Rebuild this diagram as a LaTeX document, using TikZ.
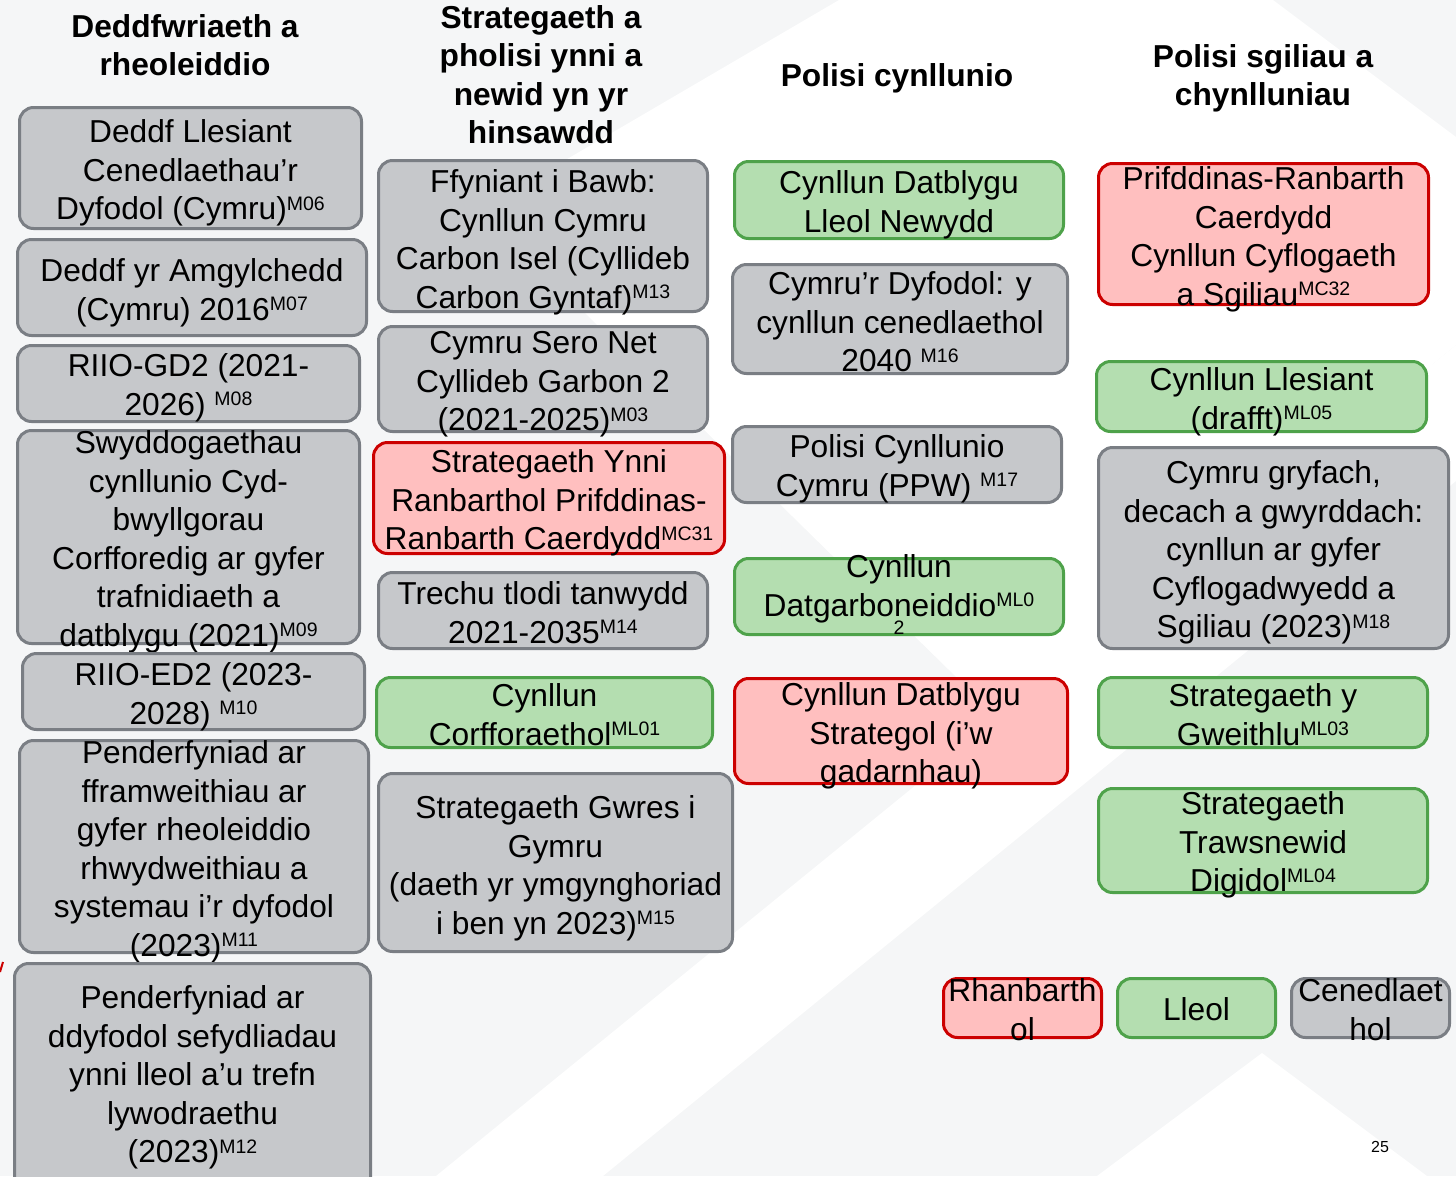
\documentclass[tikz,border=0pt]{standalone}
\usepackage{fontspec}
\setmainfont{Liberation Sans}
\definecolor{bggray}{HTML}{F5F6F7}
\definecolor{gfill}{HTML}{C6C8CB}
\definecolor{gline}{HTML}{7A7E84}
\definecolor{grfill}{HTML}{B4DEB0}
\definecolor{grline}{HTML}{4EA24A}
\definecolor{rfill}{HTML}{FFBFBF}
\definecolor{rline}{HTML}{CC0000}
\newcommand\sups[1]{\raisebox{0.3em}{\fontsize{19.5}{20}\selectfont #1}}
\newcommand\pbx[8]{%
  \node[#1, minimum width={#5-#3-3}, minimum height={#6-#4-3}] (#2) at ({(#3+#5)/2},{(#4+#6)/2}) {};
  \node[txt, anchor=north] (#2-t) at ({(#3+#5)/2},{#7-15.5}) {\strut #8};}
\tikzset{
  boxbase/.style={rectangle, rounded corners=14pt, line width=3pt, inner sep=0pt},
  gbox/.style={boxbase, fill=gfill, draw=gline},
  grbox/.style={boxbase, fill=grfill, draw=grline},
  rbox/.style={boxbase, fill=rfill, draw=rline},
  txt/.style={inner sep=0pt, align=center, font=\fontsize{31.7}{38.5}\selectfont},
  head/.style={inner sep=0pt, align=center, font=\fontsize{31.7}{38.3}\selectfont\bfseries},
}
\begin{document}
\begin{tikzpicture}[x=1pt,y=-1pt]
\useasboundingbox (0,0) rectangle (1456,1176);
% background
\fill[bggray] (0,0) rectangle (1456,1176);
\fill[white] (839,0) -- (1273,0) -- (1456,137) -- (1456,345) -- (1000,720) -- (480,210) -- cycle;
\fill[white] (1456,345) -- (1456,481) -- (603,1176) -- (436,1176) -- cycle;
\fill[white] (1262,1053) -- (1427,1176) -- (1097,1176) -- cycle;
\draw[rline, line width=2pt] (0,972) -- (3,962);
% headers
\node[head, anchor=north] (h1) at (185,10.5) {\strut Deddfwriaeth a\\rheoleiddio};
\node[head, anchor=north] (h2) at (541,1.5) {\strut Strategaeth a\\pholisi ynni a\\newid yn yr\\hinsawdd};
\node[head, anchor=north] (h3) at (897,59.5) {\strut Polisi cynllunio};
\node[head, anchor=north] (h4) at (1263,40.5) {\strut Polisi sgiliau a\\chynlluniau};
% column 1
\pbx{gbox}{c1a}{18}{106}{363}{230}{131}{Deddf Llesiant\\Cenedlaethau’r\\Dyfodol (Cymru)\sups{M06}}
\pbx{gbox}{c1b}{16}{238}{368}{337}{270}{Deddf yr Amgylchedd\\(Cymru) 2016\sups{M07}}
\pbx{gbox}{c1c}{16}{344}{361}{423}{365}{RIIO-GD2 (2021-\\2026) \sups{M08}}
\pbx{gbox}{c1d}{16}{429}{361}{645}{442}{Swyddogaethau\\cynllunio Cyd-\\bwyllgorau\\Corfforedig ar gyfer\\trafnidiaeth a\\datblygu (2021)\sups{M09}}
\pbx{gbox}{c1e}{21}{652}{366}{731}{674}{RIIO-ED2 (2023-\\2028) \sups{M10}}
\pbx{gbox}{c1f}{18}{739}{370}{954}{752}{Penderfyniad ar\\fframweithiau ar\\gyfer rheoleiddio\\rhwydweithiau a\\systemau i’r dyfodol\\(2023)\sups{M11}}
\pbx{gbox}{c1g}{13}{962}{372}{1195}{997}{Penderfyniad ar\\ddyfodol sefydliadau\\ynni lleol a’u trefn\\lywodraethu\\(2023)\sups{M12}}
% column 2
\pbx{gbox}{c2a}{377}{159}{709}{313}{181}{Ffyniant i Bawb:\\Cynllun Cymru\\Carbon Isel (Cyllideb\\Carbon Gyntaf)\sups{M13}}
\pbx{gbox}{c2b}{377}{325}{709}{433}{342}{Cymru Sero Net\\Cyllideb Garbon 2\\(2021-2025)\sups{M03}}
\pbx{rbox}{c2c}{372}{441}{726}{555}{461}{Strategaeth Ynni\\Ranbarthol Prifddinas-\\Ranbarth Caerdydd\sups{MC31}}
\pbx{gbox}{c2d}{377}{571}{709}{650}{593}{Trechu tlodi tanwydd\\2021-2035\sups{M14}}
\pbx{grbox}{c2e}{375}{676}{714}{749}{695}{Cynllun\\Corfforaethol\sups{ML01}}
\pbx{gbox}{c2f}{377}{772}{734}{953}{807}{Strategaeth Gwres i\\Gymru\\(daeth yr ymgynghoriad\\i ben yn 2023)\sups{M15}}
% column 3
\pbx{grbox}{c3a}{733}{160}{1065}{240}{182}{Cynllun Datblygu\\Lleol Newydd}
\pbx{gbox}{c3b}{731}{263}{1069}{375}{283}{Cymru’r Dyfodol: y\\cynllun cenedlaethol\\2040 \sups{M16}}
\pbx{gbox}{c3c}{731}{425}{1063}{504}{446}{Polisi Cynllunio\\Cymru (PPW) \sups{M17}}
\pbx{grbox}{c3d}{733}{557}{1065}{636}{566}{Cynllun\\Datgarboneiddio\sups{ML0}}
\node[inner sep=0pt, font=\fontsize{19.5}{20}\selectfont] (c3d-t2) at (899,628) {2};
\pbx{rbox}{c3e}{733}{677}{1069}{785}{694}{Cynllun Datblygu\\Strategol (i’w\\gadarnhau)}
% column 4
\pbx{rbox}{c4a}{1097}{162}{1430}{306}{178}{Prifddinas-Ranbarth\\Caerdydd\\Cynllun Cyflogaeth\\a Sgiliau\sups{MC32}}
\pbx{grbox}{c4b}{1095}{360}{1428}{433}{379}{Cynllun Llesiant\\(drafft)\sups{ML05}}
\pbx{gbox}{c4c}{1097}{446}{1450}{650}{472}{Cymru gryfach,\\decach a gwyrddach:\\cynllun ar gyfer\\Cyflogadwyedd a\\Sgiliau (2023)\sups{M18}}
\pbx{grbox}{c4d}{1097}{676}{1429}{749}{695}{Strategaeth y\\Gweithlu\sups{ML03}}
\pbx{grbox}{c4e}{1097}{787}{1429}{894}{803}{Strategaeth\\Trawsnewid\\Digidol\sups{ML04}}
% legend
\pbx{rbox}{lr}{942}{977}{1103}{1039}{990}{Rhanbarth\\ol}
\pbx{grbox}{ll}{1116}{977}{1277}{1039}{1009}{Lleol}
\pbx{gbox}{lc}{1290}{977}{1451}{1039}{990}{Cenedlaet\\hol}
% page number
\node[inner sep=0pt, font=\fontsize{16}{18}\selectfont] (pg) at (1380,1147) {25};
\end{tikzpicture}
\end{document}
